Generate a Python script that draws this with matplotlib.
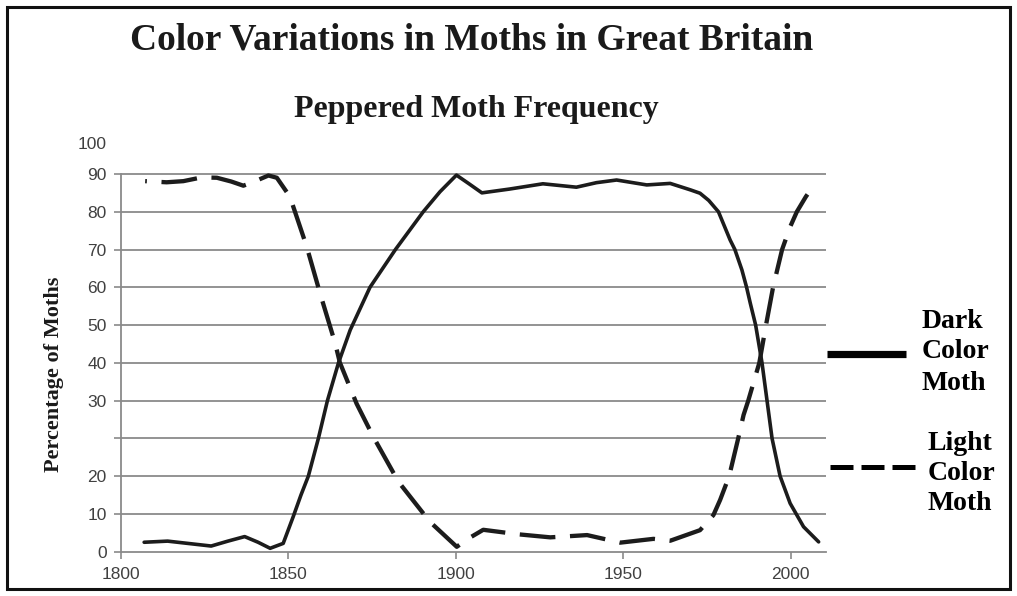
import numpy as np
import matplotlib
matplotlib.use('Agg')
import matplotlib.pyplot as plt
from matplotlib.lines import Line2D
from matplotlib.patches import Rectangle
from matplotlib.ticker import NullLocator

# ---------------- data ----------------
years_dark = [1807, 1814, 1820, 1827, 1832, 1837, 1841, 1844.6, 1848.5, 1851.5, 1853.8,
              1856, 1859, 1861.7, 1865, 1868.5, 1874.4, 1882, 1890.3, 1895.3, 1900.2,
              1903.8, 1907.8, 1916, 1926, 1936, 1942, 1948, 1957, 1964, 1970, 1972.9,
              1975.5, 1978.4, 1981.9, 1983.3, 1985.4, 1986.8, 1987.9, 1989.5, 1991.4,
              1992.9, 1994.4, 1996.8, 1999.8, 2003.8, 2008.3]
dark_pct = [2.5, 2.8, 2.2, 1.5, 2.8, 4.0, 2.5, 0.9, 2.2, 9.3, 15.0,
            20.0, 25.0, 30.0, 40.0, 48.7, 60.0, 70.0, 80.0, 85.3, 89.7,
            87.5, 85.0, 86.0, 87.4, 86.5, 87.7, 88.4, 87.1, 87.5, 85.8, 84.9,
            83.0, 80.0, 72.5, 70.0, 64.6, 60.0, 55.8, 50.0, 40.0,
            30.0, 25.0, 20.0, 12.8, 6.6, 2.6]

years_light = [1807.3, 1813.7, 1818.7, 1824.2, 1828.7, 1833, 1836.6, 1839.1, 1844.1,
               1846.6, 1850.5, 1855.5, 1859.5, 1864, 1865.4, 1870.4, 1875.4, 1882.9,
               1892.3, 1900.3, 1903.8, 1908.2, 1918.7, 1928.2, 1939.2, 1949.1, 1959,
               1964, 1972.9, 1976.9, 1978.9, 1981.6, 1984.3, 1985.9, 1987.3, 1990.6,
               1992.6, 1994.7, 1997.4, 1999.8, 2001.8, 2004.5, 2007.3]
light_pct = [88.1, 87.8, 88.1, 89.1, 89.0, 88.0, 86.9, 87.7, 89.6,
             89.0, 84.0, 70.8, 58.4, 45.2, 40.1, 29.6, 25.2, 18.5,
             7.9, 1.3, 3.5, 5.8, 4.6, 3.8, 4.4, 2.4, 3.4,
             2.9, 5.7, 9.7, 13.7, 20.0, 25.0, 28.1, 30.0, 40.0,
             50.0, 60.0, 70.0, 76.0, 80.0, 84.0, 87.5]

x_ticks = [1800, 1850, 1900, 1950, 2000]
y_grid_values = [0, 10, 20, 25, 30, 40, 50, 60, 70, 80, 90]
y_tick_labels = ['0', '10', '20', '', '30', '40', '50', '60', '70', '80', '90']
top_label_value = 98.3
top_label = '100'

title = 'Color Variations in Moths in Great Britain'
subtitle = 'Peppered Moth Frequency'
y_label = 'Percentage of Moths'
legend_dark = ['Dark', 'Color', 'Moth']
legend_light = ['Light', 'Color', 'Moth']

# the printed axis is not uniform: 20 -> 30 spans two grid steps
_val = [0, 10, 20, 30, 40, 50, 60, 70, 80, 90, 100]
_pos = [0, 1, 2, 4, 5, 6, 7, 8, 9, 10, 11]


def fwd(v):
    return np.interp(np.asarray(v, dtype=float), _val, _pos)


def inv(p):
    return np.interp(np.asarray(p, dtype=float), _pos, _val)


# ---------------- figure ----------------
W, H = 1017, 596
fig = plt.figure(figsize=(W / 100, H / 100), dpi=100)
fig.patch.set_facecolor('white')

serif = ['Liberation Serif', 'DejaVu Serif']
sans = ['Liberation Sans', 'DejaVu Sans']

ax = fig.add_axes([120.7 / W, 1 - 551.7 / H, (826 - 120.7) / W, (551.7 - 136.2) / H])
ax.set_yscale('function', functions=(fwd, inv))
ax.set_xlim(1800, 2010.5)
ax.set_ylim(0, 100)

grid_col = '#8a8a8a'
for v in y_grid_values[1:]:
    ax.axhline(v, color=grid_col, lw=1.3, zorder=1)

for s in ['top', 'right']:
    ax.spines[s].set_visible(False)
ax.spines['left'].set_color(grid_col)
ax.spines['left'].set_linewidth(1.3)
ax.spines['left'].set_bounds(0, 90)
ax.spines['bottom'].set_color(grid_col)
ax.spines['bottom'].set_linewidth(1.3)

ax.set_yticks(y_grid_values + [top_label_value])
ax.set_yticklabels(y_tick_labels + [top_label])
ax.yaxis.set_minor_locator(NullLocator())
ax.set_xticks(x_ticks)
ax.set_xticklabels([str(t) for t in x_ticks])
ax.tick_params(axis='both', length=5, width=1.2, color=grid_col,
               labelcolor='#404040', labelsize=12.5)
ax.tick_params(axis='y', pad=5)
ax.tick_params(axis='x', pad=6)
ax.yaxis.get_major_ticks()[-1].tick1line.set_visible(False)
for lab in ax.get_xticklabels() + ax.get_yticklabels():
    lab.set_family(sans)

line_col = '#1c1c1c'
ax.plot(years_dark, dark_pct, color=line_col, lw=2.6,
        solid_capstyle='round', solid_joinstyle='round', zorder=3)
ax.plot(years_light, light_pct, color=line_col, lw=3.1,
        linestyle=(7.9, (8.3, 3.4)), dash_capstyle='butt', zorder=3)

# titles
fig.text(472 / W, 1 - 50 / H, title, ha='center', va='baseline',
         fontsize=27, fontweight='bold', family=serif, color='#1a1a1a')
fig.text(476.5 / W, 1 - 117 / H, subtitle, ha='center', va='baseline',
         fontsize=23, fontweight='bold', family=serif, color='#1a1a1a')
fig.text(54 / W, 1 - 374 / H, y_label, ha='center', va='center', rotation=90,
         fontsize=16, fontweight='bold', family=serif, color='#1a1a1a')

# legend on the right
fig.add_artist(Line2D([827 / W, 906 / W], [1 - 354 / H] * 2, lw=5.2,
                      color='black', solid_capstyle='butt'))
fig.add_artist(Line2D([830 / W, 915 / W], [1 - 467 / H] * 2, lw=3.6,
                      color='black', linestyle=(0, (4.6, 1.6)),
                      dash_capstyle='butt'))
for i, t in enumerate(legend_dark):
    fig.text(922 / W, 1 - (321 + 31 * i) / H, t, ha='left', va='center',
             fontsize=20, fontweight='bold', family=serif, color='black')
for i, t in enumerate(legend_light):
    fig.text(928 / W, 1 - (443 + 30.5 * i) / H, t, ha='left', va='center',
             fontsize=20, fontweight='bold', family=serif, color='black')

# outer frame
fig.add_artist(Rectangle((7 / W, 1 - 589 / H), (1010 - 7) / W, (589 - 7) / H,
                         transform=fig.transFigure, fill=False,
                         edgecolor='#111111', lw=2.2))

fig.savefig('out.png', dpi=100)
